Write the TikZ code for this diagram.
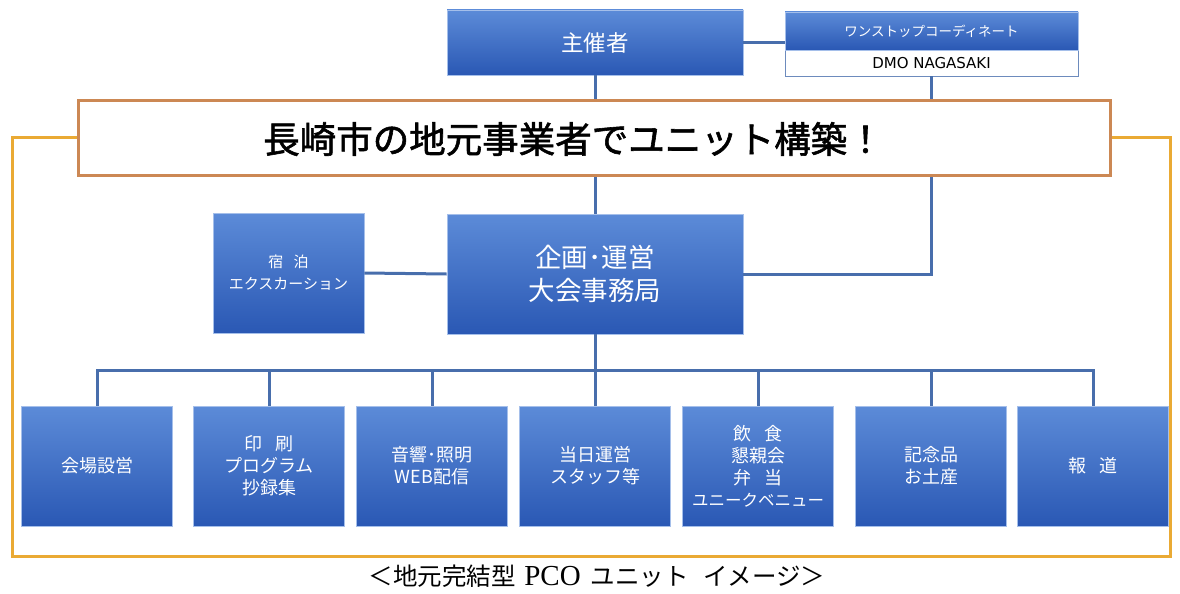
\documentclass[tikz,border=0pt]{standalone}
\usepackage{fontspec}
\setmainfont{Liberation Serif}
\newfontfamily\jp{Noto Sans CJK JP}
\newfontfamily\jpfb[FakeBold=1.6]{Noto Sans CJK JP}
\newfontfamily\latsans{DejaVu Sans}
\definecolor{bluetop}{RGB}{92,139,216}
\definecolor{bluebot}{RGB}{42,88,180}
\definecolor{connc}{RGB}{72,110,172}
\definecolor{bannerc}{RGB}{204,136,84}
\definecolor{framec}{RGB}{234,170,52}
\tikzset{
  bluebox/.style={rectangle, top color=bluetop, bottom color=bluebot, draw=bluetop!55!white,
    line width=0.8pt, text=white, align=center, inner sep=0pt, font=\jp},
  unitbox/.style={bluebox, minimum width=151pt, minimum height=120pt,
    font=\jp\fontsize{18}{22}\selectfont},
  link/.style={draw=connc, line width=3pt},
  frameline/.style={draw=framec, line width=3pt},
}
\newcommand{\gap}{\hspace{0.7em}}
\begin{document}
\begin{tikzpicture}[x=1pt,y=-1pt]
\useasboundingbox (0,0) rectangle (1180,594);
\coordinate (fl) at (12,556);
\coordinate (fr) at (1170,556);
% banner
\node[rectangle, draw=bannerc, line width=3pt, fill=white, minimum width=1032pt, minimum height=75pt, inner sep=0pt] (banner) at (594,137.5) {};
\draw[frameline] (banner.west) -| (fl) -- (fr) |- (banner.east);
\node[font=\jpfb\fontsize{36.5}{40}\selectfont] (bannertxt) at (573.5,139) {長崎市の地元事業者でユニット構築！};
% top row
\node[bluebox, minimum width=296pt, minimum height=65pt, font=\jp\fontsize{22.5}{26}\selectfont] (shusai) at (595,42.5) {主催者};
\node[rectangle, draw=connc!80, line width=0.8pt, fill=white, minimum width=293pt, minimum height=64pt, inner sep=0pt] (dmobox) at (931.5,44) {};
\node[bluebox, minimum width=293pt, minimum height=38pt, font=\jp\fontsize{13.5}{15}\selectfont] (dmotop) at (931.5,31) {ワンストップコーディネート};
\node[font=\latsans\fontsize{15}{16}\selectfont, inner sep=0pt] (dmotxt) at (931.5,63) {DMO NAGASAKI};
\draw[link] (shusai.east) -- (shusai.east -| dmobox.west);
\draw[link] (shusai.south) -- (shusai.south |- banner.north);
\draw[link] (dmobox.south) -- (dmobox.south |- banner.north);
% middle row
\node[bluebox, minimum width=296pt, minimum height=120pt, font=\jp\fontsize{26.5}{33}\selectfont] (kikaku) at (595,274) {企画･運営\\大会事務局};
\node[bluebox, minimum width=151pt, minimum height=120pt, font=\jp\fontsize{15}{22}\selectfont] (shuku) at (288.5,273) {宿\gap 泊\\エクスカーション};
\draw[link] (kikaku.north) -- (kikaku.north |- banner.south);
\draw[link] (kikaku.east) -| (banner.south -| dmobox.south);
\draw[link] (shuku.east) -- (kikaku.west);
% bottom row
\node[unitbox] (b1) at (97,466) {会場設営};
\node[unitbox] (b2) at (269,466) {印\gap 刷\\プログラム\\抄録集};
\node[unitbox] (b3) at (432,466) {音響･照明\\WEB配信};
\node[unitbox] (b4) at (595,466) {当日運営\\スタッフ等};
\node[unitbox] (b5) at (758,466) {飲\gap 食\\懇親会\\弁\gap 当\\{\fontsize{16.5}{22}\selectfont ユニークベニュー}};
\node[unitbox] (b6) at (931,466) {記念品\\お土産};
\node[unitbox] (b7) at (1093,466) {報\gap 道};
\coordinate (busy) at (0,370);
\draw[link] (kikaku.south) -- (kikaku.south |- busy);
\draw[link] (b1.north) -- (b1.north |- busy) -- (b7.north |- busy) -- (b7.north);
\foreach \b in {b2,b3,b4,b5,b6} { \draw[link] (\b.north) -- (\b.north |- busy); }
% caption
\node[font=\fontsize{24.5}{28}\selectfont, inner sep=0pt] (caption) at (597,576) {{\jp ＜地元完結型}\hspace{0.35em}{\fontsize{29}{30}\selectfont PCO}\hspace{0.4em}{\jp ユニット\hspace{0.6em}イメージ＞}};
\end{tikzpicture}
\end{document}
